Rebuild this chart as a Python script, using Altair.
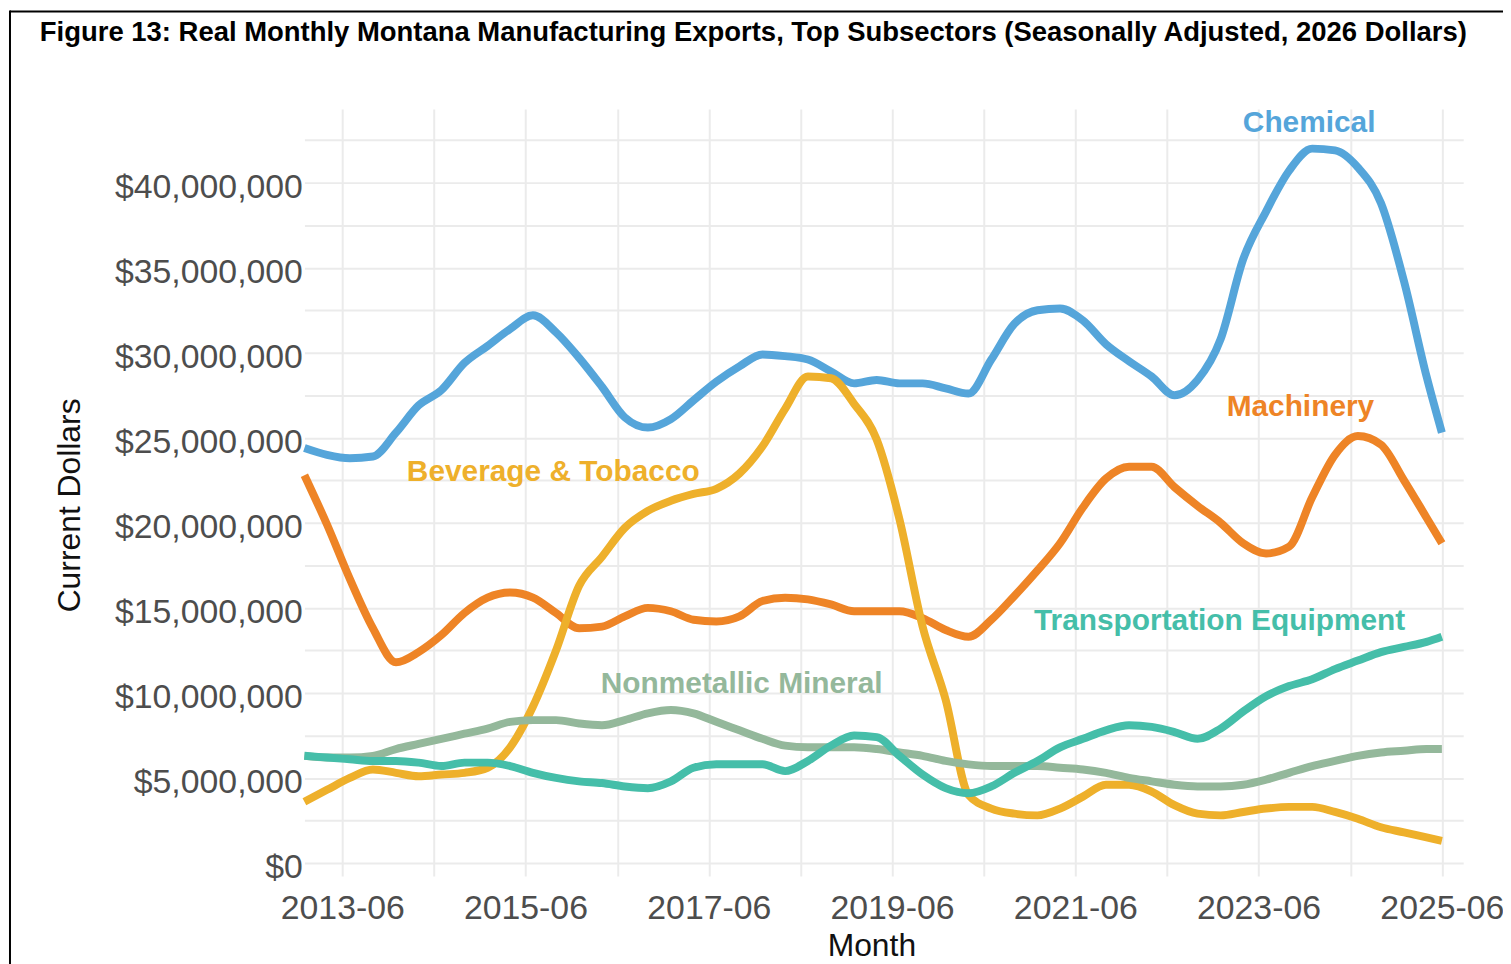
import altair as alt
import pandas as pd

# ---- data (values in millions of 2026 dollars) ----
dates = list(pd.date_range("2013-01-01", "2025-04-01", freq="QS-JAN")) + [pd.Timestamp("2025-06-01")]

chemical = [24.4, 24.0, 23.8, 23.9, 25.3, 26.9, 27.8, 29.4, 30.4, 31.4,
            32.2, 31.2, 29.7, 28.0, 26.2, 25.6, 26.1, 27.2, 28.3, 29.2,
            29.9, 29.8, 29.6, 28.9, 28.2, 28.4, 28.2, 28.2, 27.9, 27.6,
            29.6, 31.7, 32.5, 32.6, 31.9, 30.5, 29.5, 28.6, 27.5, 28.4,
            30.8, 35.5, 38.3, 40.7, 42.0, 41.9, 40.9, 38.8, 34.2, 28.6,
            25.3]
machinery = [22.8, 19.9, 16.7, 13.8, 11.8, 12.4, 13.4, 14.7, 15.6, 15.9,
             15.6, 14.7, 13.8, 13.9, 14.5, 15.0, 14.8, 14.3, 14.2, 14.5,
             15.4, 15.6, 15.5, 15.2, 14.8, 14.8, 14.8, 14.4, 13.7, 13.3,
             14.3, 15.7, 17.2, 18.8, 20.9, 22.6, 23.3, 23.3, 22.1, 21.0,
             20.0, 18.8, 18.2, 18.6, 21.5, 24.0, 25.1, 24.6, 22.5, 20.3,
             18.8]
beverage = [3.6, 4.3, 5.0, 5.5, 5.3, 5.1, 5.2, 5.3, 5.6, 6.8,
            9.2, 12.5, 16.3, 18.0, 19.7, 20.7, 21.3, 21.7, 22.0, 22.9,
            24.5, 26.7, 28.6, 28.5, 27.0, 24.9, 20.2, 13.9, 9.6, 4.0,
            3.2, 2.9, 2.8, 3.2, 3.9, 4.6, 4.6, 4.2, 3.4, 2.9,
            2.8, 3.0, 3.2, 3.3, 3.3, 3.0, 2.6, 2.1, 1.8, 1.5,
            1.3]
nonmetallic = [6.3, 6.2, 6.2, 6.3, 6.7, 7.0, 7.3, 7.6, 7.9, 8.3,
               8.4, 8.4, 8.2, 8.1, 8.4, 8.8, 9.0, 8.8, 8.3, 7.8,
               7.3, 6.9, 6.8, 6.8, 6.8, 6.7, 6.5, 6.3, 6.0, 5.8,
               5.7, 5.7, 5.7, 5.6, 5.5, 5.3, 5.0, 4.8, 4.6, 4.5,
               4.5, 4.6, 4.9, 5.3, 5.7, 6.0, 6.3, 6.5, 6.6, 6.7,
               6.7]
transportation = [6.3, 6.2, 6.1, 6.0, 6.0, 5.9, 5.7, 5.9, 5.9, 5.7,
                  5.3, 5.0, 4.8, 4.7, 4.5, 4.4, 4.8, 5.6, 5.8, 5.8,
                  5.8, 5.4, 6.0, 6.9, 7.5, 7.4, 6.3, 5.2, 4.4, 4.1,
                  4.5, 5.3, 6.0, 6.8, 7.3, 7.8, 8.1, 8.0, 7.7, 7.3,
                  7.9, 8.9, 9.8, 10.4, 10.8, 11.4, 11.9, 12.4, 12.7, 13.0,
                  13.3]

series_names = ["Chemical", "Machinery", "Beverage & Tobacco",
                "Nonmetallic Mineral", "Transportation Equipment"]
series_values = [chemical, machinery, beverage, nonmetallic, transportation]
series_colors = ["#55A5DA", "#EE8426", "#EEB02B", "#94B89B", "#45BEA9"]

label_dates = ["2023-12-20", "2023-11-15", "2015-09-20", "2017-10-10", "2022-12-28"]
label_values = [43.5, 26.8, 23.0, 10.5, 14.2]

title_text = ("Figure 13: Real Monthly Montana Manufacturing Exports, Top Subsectors "
              "(Seasonally Adjusted, 2026 Dollars)")

# ---- tables ----
rows = []
for name, vals in zip(series_names, series_values):
    for d, v in zip(dates, vals):
        rows.append({"Month": d, "value": v * 1e6, "series": name})
df = pd.DataFrame(rows)

labels_df = pd.DataFrame({
    "Month": pd.to_datetime(label_dates),
    "value": [v * 1e6 for v in label_values],
    "series": series_names,
})

W, H = 1165, 771

x_scale = alt.Scale(domain=[alt.DateTime(year=2013, month=1, date=1),
                            alt.DateTime(year=2025, month=8, date=25)], nice=False)
y_scale = alt.Scale(domain=[-760000, 44330000], nice=False, zero=False)

x_axis = alt.Axis(
    values=[alt.DateTime(year=y, month=6, date=1) for y in range(2013, 2026)],
    labelExpr="year(datum.value) % 2 == 1 ? timeFormat(datum.value, '%Y-%m') : ''",
    title="Month", titleFont="Liberation Sans", titleFontSize=32, titleFontWeight="normal",
    titleColor="#111111", titleX=570, titleY=80, titleBaseline="alphabetic", titleAlign="center",
    labelFont="Liberation Sans", labelFontSize=34, labelColor="#4D4D4D", labelLimit=0,
    labelPadding=16, labelBaseline="top", labelOverlap=False, labelFlush=False,
    ticks=False, tickSize=0, domain=False,
    grid=True, gridColor="#EBEBEB", gridWidth=2,
)
y_axis = alt.Axis(
    values=[i * 2500000 for i in range(18)],
    labelExpr="datum.value % 5000000 == 0 ? format(datum.value, '$,.0f') : ''",
    title="Current Dollars", titleFont="Liberation Sans", titleFontSize=32, titleFontWeight="normal",
    titleColor="#111111", titleAngle=270, titleX=-236, titleY=398,
    titleBaseline="middle", titleAlign="center",
    labelFont="Liberation Sans", labelFontSize=34, labelColor="#4D4D4D", labelLimit=0,
    labelPadding=2, labelOffset=5, labelBaseline="middle", labelOverlap=False, labelFlush=False,
    ticks=False, tickSize=0, domain=False,
    grid=True, gridColor="#EBEBEB", gridWidth=2,
)

layers = []
for name, color in zip(series_names, series_colors):
    layers.append(
        alt.Chart(df[df["series"] == name]).mark_line(
            color=color, strokeWidth=8, interpolate="monotone", strokeCap="butt", strokeJoin="round"
        ).encode(
            x=alt.X("Month:T", scale=x_scale, axis=x_axis),
            y=alt.Y("value:Q", scale=y_scale, axis=y_axis),
        )
    )

text_layer = alt.Chart(labels_df).mark_text(
    font="Liberation Sans", fontSize=30, fontWeight="bold", align="center", baseline="middle"
).encode(
    x=alt.X("Month:T", scale=x_scale, axis=x_axis),
    y=alt.Y("value:Q", scale=y_scale, axis=y_axis),
    text="series:N",
    color=alt.Color("series:N", scale=alt.Scale(domain=series_names, range=series_colors), legend=None),
)

frame_src = alt.Data(values=[{"k": 0}])
frame_left = alt.Chart(frame_src).mark_rule(color="#000000", strokeWidth=2).encode(
    x=alt.value(-296), y=alt.value(-99), y2=alt.value(900)
)
frame_top = alt.Chart(frame_src).mark_rule(color="#000000", strokeWidth=2).encode(
    x=alt.value(-296), x2=alt.value(1210), y=alt.value(-98)
)

title_src = alt.Data(values=[{"t": title_text}])
title_mark = alt.Chart(title_src).mark_text(
    font="Liberation Sans", fontSize=27.6, fontWeight="bold", color="#000000",
    align="left", baseline="alphabetic"
).encode(
    x=alt.value(-266), y=alt.value(-68), text="t:N"
)

chart = alt.layer(*layers, text_layer, frame_left, frame_top, title_mark).properties(
    width=W, height=H,
    autosize=alt.AutoSizeParams(type="none"),
    padding={"left": 298, "top": 99, "right": 40, "bottom": 86},
    background="white",
).configure_view(stroke=None)

chart.save("out.html", embed_options={"renderer": "svg", "actions": False})
